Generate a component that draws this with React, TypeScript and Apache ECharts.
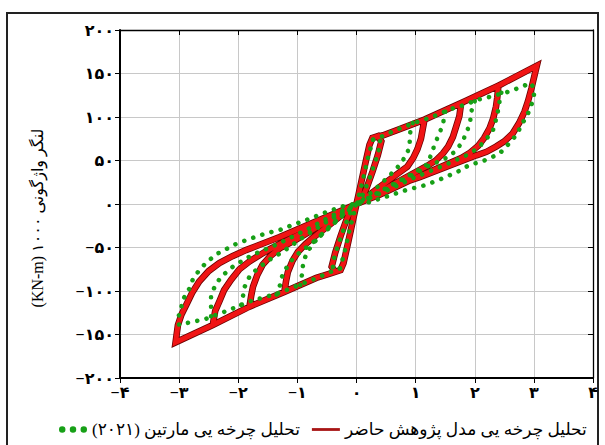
import React, { useEffect, useRef } from 'react';
import * as echarts from 'echarts';

// ---- tick labels ----
const xTicks = [-4, -3, -2, -1, 0, 1, 2, 3, 4];
const xTickLabels = ['−۴', '−۳', '−۲', '−۱', '۰', '۱', '۲', '۳', '۴'];
const yTicks = [-200, -150, -100, -50, 0, 50, 100, 150, 200];
const yTickLabels = ['−۲۰۰', '−۱۵۰', '−۱۰۰', '−۵۰', '۰', '۵۰', '۱۰۰', '۱۵۰', '۲۰۰'];

const MODEL_NAME = 'تحلیل چرخه یی مدل پژوهش حاضر';
const MARTIN_NAME = 'تحلیل چرخه یی مارتین (۲۰۲۱)\u200F';
const Y_TITLE = '(KN-m) ۱۰۰۰ لنگر واژگونی';

// ---- present model (red), loop by loop ----
const redLoop0 = [
  [0, 0], [0.08, 25], [0.16, 50], [0.22, 68], [0.27, 76], [0.36, 78], [0.42, 72], [0.36, 56], [0.27, 37], [0.17, 18], [0.07, 4], [0, 0],
  [-0.08, -25], [-0.16, -50], [-0.22, -68], [-0.27, -76], [-0.36, -78], [-0.42, -72], [-0.36, -56], [-0.27, -37], [-0.17, -18], [-0.07, -4], [0, 0],
];
const redLoop1 = [
  [0.08, 25], [0.16, 50], [0.22, 68], [0.27, 76], [0.45, 79], [0.73, 86], [1.15, 97], [1.12, 86], [1.09, 75], [1.03, 63], [0.96, 53], [0.86, 43], [0.72, 36], [0.4, 20], [0.15, 7], [0, 0],
  [-0.08, -25], [-0.16, -50], [-0.22, -68], [-0.27, -76], [-0.45, -80], [-0.68, -85], [-1.22, -101], [-1.19, -88], [-1.16, -78], [-1.08, -65], [-0.99, -55], [-0.86, -46], [-0.74, -39], [-0.4, -21], [-0.15, -7], [0, 0],
];
const redLoop2 = [
  [0.08, 25], [0.16, 50], [0.22, 68], [0.27, 76], [0.45, 79], [0.73, 86], [1.15, 97], [1.77, 116], [1.74, 101], [1.69, 90], [1.63, 77], [1.55, 66], [1.46, 58], [1.34, 50], [1.2, 44], [0.9, 33], [0.5, 18], [0.15, 6], [0, 0],
  [-0.08, -25], [-0.16, -50], [-0.22, -68], [-0.27, -76], [-0.45, -80], [-0.68, -85], [-1.22, -101], [-1.81, -118], [-1.78, -105], [-1.75, -95], [-1.68, -82], [-1.59, -70], [-1.46, -60], [-1.3, -51], [-1.02, -41], [-0.6, -24], [-0.15, -6], [0, 0],
];
const redLoop3 = [
  [0.08, 25], [0.16, 50], [0.22, 68], [0.27, 76], [0.45, 79], [0.73, 86], [1.15, 97], [1.77, 116], [2.4, 136], [2.38, 122], [2.36, 112], [2.31, 98], [2.25, 87], [2.16, 76], [2.06, 67], [1.92, 59], [1.78, 53], [1.4, 42], [0.9, 27], [0.4, 11], [0, 0],
  [-0.08, -25], [-0.16, -50], [-0.22, -68], [-0.27, -76], [-0.45, -80], [-0.68, -85], [-1.22, -101], [-1.81, -118], [-2.43, -139], [-2.39, -123], [-2.32, -112], [-2.24, -99], [-2.12, -87], [-1.98, -75], [-1.81, -66], [-1.62, -58], [-1.47, -52], [-1.0, -36], [-0.5, -17], [0, 0],
];
const redLoop4 = [
  [0.08, 25], [0.16, 50], [0.22, 68], [0.27, 76], [0.45, 79], [0.73, 86], [1.15, 97], [1.77, 116], [2.4, 136], [3.05, 159], [2.99, 142], [2.96, 133], [2.9, 118], [2.84, 106], [2.75, 93], [2.64, 81], [2.5, 72], [2.36, 66], [2.2, 60], [2.03, 56], [1.57, 44], [1.07, 31], [0.73, 23], [0.35, 11], [0, 0],
  [-0.08, -25], [-0.16, -50], [-0.22, -68], [-0.27, -76], [-0.45, -80], [-0.68, -85], [-1.22, -101], [-1.81, -118], [-2.43, -139], [-3.06, -159], [-3.02, -139], [-2.96, -127], [-2.88, -116], [-2.78, -102], [-2.66, -89], [-2.5, -77], [-2.32, -68], [-2.1, -60], [-1.87, -53], [-1.3, -38], [-0.68, -20], [-0.3, -9], [0, 0],
];

// ---- Martin (2021), green dotted pieces ----
const greenOuterPos = [
  [0, 0], [0.1, 25], [0.2, 55], [0.28, 74], [0.44, 78], [0.67, 85], [0.97, 93], [1.27, 100], [1.63, 110], [1.86, 114.6], [2.03, 119.5], [2.25, 123], [2.62, 130], [2.79, 135], [2.96, 139],
  [3.01, 129], [2.98, 118], [2.9, 104], [2.81, 93], [2.7, 79], [2.56, 68], [2.42, 58], [2.25, 52.5], [2.11, 48.6], [1.91, 45], [1.77, 39], [1.46, 29.5], [1.18, 22], [0.84, 16], [0.5, 8.4], [0.16, 1], [0, 0],
];
const greenOuterNeg = [
  [0, 0], [-0.1, -25], [-0.2, -55], [-0.28, -74], [-0.44, -78], [-0.67, -85], [-0.97, -93], [-1.3, -102], [-1.55, -107], [-1.81, -112], [-2.09, -120], [-2.43, -129], [-2.57, -132.5], [-2.88, -137], [-3.0, -139],
  [-3.02, -131], [-2.97, -122], [-2.94, -110], [-2.85, -101], [-2.77, -87], [-2.66, -76], [-2.52, -66], [-2.35, -57], [-2.18, -51], [-2.01, -45], [-1.78, -39.5], [-1.53, -33.7], [-1.3, -30], [-1.08, -24], [-0.85, -18.4], [-0.5, -9], [-0.16, -1], [0, 0],
];
const greenA = [[0.95, 93], [0.9, 80], [0.9, 66], [0.84, 56], [0.73, 45], [0.55, 32], [0.36, 20], [0.15, 7], [0, 0]];
const greenB = [[1.5, 106], [1.46, 91], [1.4, 81], [1.32, 68], [1.26, 56], [1.18, 45], [1.0, 37], [0.6, 22], [0.2, 7], [0, 0]];
const greenC = [[2.0, 118], [1.94, 106], [1.92, 93], [1.86, 82], [1.78, 70], [1.66, 60], [1.52, 53], [1.2, 43], [0.8, 28], [0.4, 13], [0, 0]];
const greenD = [[2.45, 128], [2.42, 118], [2.38, 102], [2.31, 85], [2.19, 74], [2.05, 64], [1.86, 56], [1.5, 45], [1.0, 31], [0.5, 15], [0, 0]];
const greenANeg = [[-0.95, -93], [-0.92, -80], [-0.9, -67], [-0.84, -56], [-0.73, -45], [-0.55, -32], [-0.36, -20], [-0.15, -7], [0, 0]];
const greenBNeg = [[-1.35, -104], [-1.3, -95], [-1.27, -85], [-1.2, -75], [-1.1, -65], [-0.95, -55], [-0.75, -45], [-0.5, -30], [-0.2, -11], [0, 0]];
const greenCNeg = [[-1.95, -116], [-1.92, -106], [-1.89, -95], [-1.81, -83.5], [-1.67, -74], [-1.47, -64], [-1.25, -55], [-0.9, -38], [-0.45, -18], [0, 0]];
const greenDNeg = [[-2.46, -129], [-2.46, -118], [-2.46, -106.5], [-2.4, -95], [-2.29, -83.5], [-2.09, -72], [-1.87, -62.5], [-1.64, -55], [-1.3, -45], [-0.8, -28], [-0.4, -13], [0, 0]];
const greenLensPos = [[0.28, 74], [0.38, 76], [0.41, 70], [0.35, 55], [0.25, 35], [0.12, 12], [0, 0]];
const greenLensNeg = [[-0.28, -74], [-0.38, -76], [-0.41, -70], [-0.35, -55], [-0.25, -35], [-0.12, -12], [0, 0]];

const FONT = "'Liberation Serif', 'DejaVu Sans', serif";

export default function App() {
  const ref = useRef<HTMLDivElement>(null);
  useEffect(() => {
    const chart = echarts.init(ref.current as HTMLDivElement, null, { renderer: 'svg' });
    const redPath = [...redLoop0, ...redLoop1, ...redLoop2, ...redLoop3, ...redLoop4];
    const greenPieces = [greenOuterPos, greenOuterNeg, greenA, greenB, greenC, greenD, greenANeg, greenBNeg, greenCNeg, greenDNeg, greenLensPos, greenLensNeg];
    const greenSeries = greenPieces.map((d) => ({
      type: 'line',
      name: MARTIN_NAME,
      data: d,
      symbol: 'none',
      showSymbol: false,
      silent: true,
      z: 5,
      lineStyle: { color: '#17a017', width: 4.6, type: [0.01, 9.5], cap: 'round' },
      itemStyle: { color: '#17a017' },
    }));
    const option: any = {
      animation: false,
      backgroundColor: '#fff',
      grid: { left: 120, right: 12, top: 30, bottom: 67, containLabel: false },
      xAxis: [
        {
          type: 'value', min: -4, max: 4, interval: 1, position: 'bottom',
          axisLine: { onZero: false, lineStyle: { color: '#000', width: 2 } },
          axisTick: { show: true, inside: false, length: 5, lineStyle: { color: '#000', width: 1 } },
          axisLabel: {
            margin: 6, color: '#000', fontSize: 16, fontWeight: 'bold', fontFamily: FONT,
            formatter: (v: number) => xTickLabels[xTicks.indexOf(Math.round(v))] ?? '',
          },
          splitLine: { show: true, lineStyle: { color: '#c8c8c8', width: 1 } },
        },
        {
          type: 'value', min: -4, max: 4, interval: 1, position: 'top',
          axisLine: { onZero: false, lineStyle: { color: '#000', width: 1.3 } },
          axisTick: { show: true, inside: true, length: 5, lineStyle: { color: '#000', width: 1 } },
          axisLabel: { show: false },
          splitLine: { show: false },
        },
      ],
      yAxis: [
        {
          type: 'value', min: -200, max: 200, interval: 50, position: 'left',
          axisLine: { onZero: false, lineStyle: { color: '#000', width: 2 } },
          axisTick: { show: true, inside: false, length: 5, lineStyle: { color: '#000', width: 1 } },
          axisLabel: {
            margin: 6, color: '#000', fontSize: 16, fontWeight: 'bold', fontFamily: FONT,
            formatter: (v: number) => yTickLabels[yTicks.indexOf(Math.round(v))] ?? '',
          },
          splitLine: { show: true, lineStyle: { color: '#c8c8c8', width: 1 } },
        },
        {
          type: 'value', min: -200, max: 200, interval: 50, position: 'right',
          axisLine: { onZero: false, lineStyle: { color: '#000', width: 1.3 } },
          axisTick: { show: true, inside: true, length: 5, lineStyle: { color: '#000', width: 1 } },
          axisLabel: { show: false },
          splitLine: { show: false },
        },
      ],
      legend: {
        left: 59, top: 421, padding: 0, itemGap: 12, itemWidth: 28, itemHeight: 8,
        selectedMode: false,
        textStyle: { fontSize: 17, color: '#000', fontFamily: FONT },
        data: [
          {
            name: MARTIN_NAME,
            icon: 'path://M3,0A3,3,0,1,1,3,6A3,3,0,1,1,3,0ZM13,0A3,3,0,1,1,13,6A3,3,0,1,1,13,0ZM23,0A3,3,0,1,1,23,6A3,3,0,1,1,23,0Z',
            itemStyle: { color: '#17a017', borderWidth: 0 },
          },
          {
            name: MODEL_NAME,
            icon: 'path://M0,0L40,0L40,4L0,4Z',
            itemStyle: { color: '#a81515', borderWidth: 0 },
          },
        ],
      },
      graphic: [
        {
          type: 'rect', z: -10, silent: true,
          shape: { x: 7, y: 13, width: 591, height: 445 },
          style: { fill: 'none', stroke: '#222', lineWidth: 2 },
        },
        {
          type: 'text', x: 37, y: 218, rotation: Math.PI / 2, silent: true,
          style: { text: Y_TITLE, fill: '#000', font: `16px ${FONT}`, align: 'center', verticalAlign: 'middle', textAlign: 'center', textVerticalAlign: 'middle' },
        },
      ],
      series: [
        {
          type: 'line', name: 'outline', data: redPath, symbol: 'none', showSymbol: false, silent: true, z: 2,
          lineStyle: { color: '#6a0000', width: 6.6, join: 'miter' },
        },
        {
          type: 'line', name: MODEL_NAME, data: redPath, symbol: 'none', showSymbol: false, silent: true, z: 3,
          lineStyle: { color: '#f01414', width: 5, join: 'miter' },
          itemStyle: { color: '#a81515' },
        },
        ...greenSeries,
      ],
    };
    chart.setOption(option);
    return () => chart.dispose();
  }, []);
  return <div ref={ref} style={{ position: 'fixed', left: 0, top: 0, width: 605, height: 445, background: '#fff' }} />;
}
